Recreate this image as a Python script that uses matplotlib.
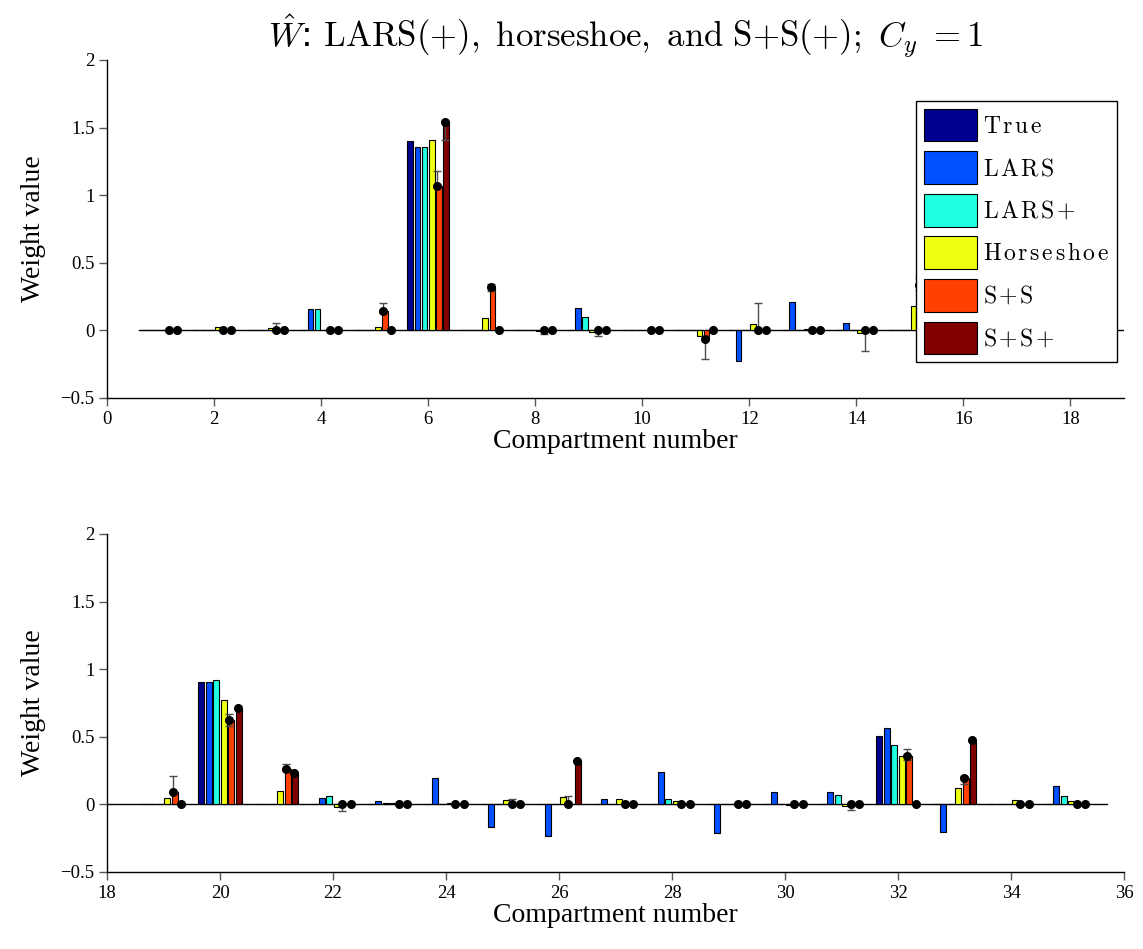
import numpy as np
import matplotlib
matplotlib.use("Agg")
import matplotlib.pyplot as plt

plt.rcParams['mathtext.fontset'] = 'cm'
plt.rcParams['axes.unicode_minus'] = True

# ---- data: estimated weights for compartments 1..35 ----
compartments = np.arange(1, 36)
methods = ["True", "LARS", "LARS+", "Horseshoe", "S+S", "S+S+"]
colors = ["#00008F", "#0050FF", "#20FFDF", "#EFFF10", "#FF4000", "#800000"]

w_true = [0, 0, 0, 0, 0, 1.40, 0, 0, 0, 0, 0, 0, 0, 0, 0, 0, 0, 0,
          0, 0.905, 0, 0, 0, 0, 0, 0, 0, 0, 0, 0, 0, 0.505, 0, 0, 0]
w_lars = [0.005, 0, 0, 0.16, 0, 1.355, 0, 0, 0.168, 0, 0, -0.23, 0.21, 0.057, 0, 0, 0, 0,
          0, 0.902, 0, 0.047, 0.022, 0.195, -0.17, -0.232, 0.042, 0.239, -0.212, 0.089,
          0.089, 0.564, -0.207, 0, 0.135]
w_lars_pos = [0, 0, 0, 0.16, 0, 1.36, 0, 0, 0.10, 0, 0, 0, 0, 0, 0, 0, 0, 0,
              0, 0.917, 0, 0.061, 0.012, 0.003, 0, 0, 0, 0.037, 0, 0,
              0.071, 0.441, 0, 0.004, 0.061]
w_horseshoe = [0, 0.022, 0.018, 0, 0.022, 1.41, 0.094, -0.005, -0.012, 0, -0.04, 0.047,
               0.01, -0.017, 0.178, 0, 0, 0,
               0.049, 0.771, 0.098, -0.018, 0.013, 0.008, 0.032, 0.052, 0.037, 0.022,
               0.004, -0.003, -0.01, 0.357, 0.12, 0.03, 0.027]
w_ss = [0, 0, 0, 0, 0.14, 1.07, 0.318, 0, 0, 0, -0.063, 0, 0, 0, 0.335, 0, 0, 0,
        0.09, 0.623, 0.263, 0, 0, 0, 0, 0, 0, 0, 0, 0, 0, 0.357, 0.192, 0, 0]
ss_low = [0, 0, 0, 0, 0.13, 1.06, 0.29, -0.025, -0.045, 0, -0.21, 0, 0, -0.15, 0.30, 0, 0, 0,
          0.09, 0.58, 0.244, -0.047, 0, 0, 0, 0, 0, 0, 0, 0, -0.042, 0.33, 0.15, 0, 0]
ss_high = [0, 0, 0.055, 0, 0.20, 1.18, 0.345, 0.005, 0, 0, -0.04, 0.20, 0, 0, 0.39, 0, 0, 0,
           0.21, 0.666, 0.296, 0, 0, 0, 0.037, 0.064, 0, 0, 0, 0, 0, 0.407, 0.21, 0, 0]
w_ss_pos = [0, 0, 0, 0, 0, 1.54, 0, 0, 0, 0, 0, 0, 0, 0, 0, 0, 0, 0,
            0, 0.715, 0.229, 0, 0, 0, 0, 0.322, 0, 0, 0, 0, 0, 0, 0.478, 0, 0]
ssp_low = [0, 0, 0, 0, 0, 1.41, 0, 0, 0, 0, 0, 0, 0, 0, 0, 0, 0, 0,
           0, 0.715, 0.229, 0, 0, 0, 0, 0.322, 0, 0, 0, 0, 0, 0, 0.478, 0, 0]
ssp_high = [0, 0, 0, 0, 0, 1.55, 0, 0, 0, 0, 0, 0, 0, 0, 0, 0, 0, 0,
            0, 0.715, 0.229, 0, 0, 0, 0, 0.322, 0, 0, 0, 0, 0, 0, 0.478, 0, 0]

series = [w_true, w_lars, w_lars_pos, w_horseshoe, w_ss, w_ss_pos]

W, H = 1143, 949
fig = plt.figure(figsize=(W / 100, H / 100), dpi=100)
ax_top = fig.add_axes([107 / W, 1 - 398 / H, 1017 / W, 338 / H])
ax_bot = fig.add_axes([107 / W, 1 - 872 / H, 1017 / W, 338 / H])

n = len(methods)
group_w = 0.8
step = group_w / n
bar_w = step * 0.8
offsets = (np.arange(n) - (n - 1) / 2) * step

tick_font = dict(family="Liberation Serif", size=13.5)
label_font = dict(family="Liberation Serif", size=20)


def draw_panel(ax, first, last, xlim, xticks, base_span):
    sel = (compartments >= first) & (compartments <= last)
    x = compartments[sel]
    ax.plot(base_span, [0, 0], color="black", lw=1.0, zorder=1)
    handles = []
    for i in range(n):
        vals = np.asarray(series[i])[sel]
        h = ax.bar(x + offsets[i], vals, width=bar_w, color=colors[i],
                   edgecolor="black", linewidth=0.8, zorder=2)
        handles.append(h)
    # posterior summaries for the spike-and-slab fits
    for vals, lo, hi, dx in ((w_ss, ss_low, ss_high, 0.165),
                             (w_ss_pos, ssp_low, ssp_high, 0.315)):
        v = np.asarray(vals)[sel]
        l = np.asarray(lo)[sel]
        u = np.asarray(hi)[sel]
        has = (u - l) > 1e-9
        if has.any():
            ax.errorbar(x[has] + dx, v[has], yerr=[v[has] - l[has], u[has] - v[has]],
                        fmt="none", ecolor="0.3", elinewidth=1.0, capsize=3,
                        capthick=1.0, zorder=3)
        ax.plot(x + dx, v, "o", color="black", ms=5.5, zorder=4)
    ax.set_xlim(*xlim)
    ax.set_ylim(-0.5, 2)
    ax.set_xticks(xticks)
    ax.set_yticks([-0.5, 0, 0.5, 1, 1.5, 2])
    ax.set_yticklabels(["\u22120.5", "0", "0.5", "1", "1.5", "2"])
    for lab in ax.get_xticklabels() + ax.get_yticklabels():
        lab.set_fontfamily(tick_font["family"])
        lab.set_fontsize(tick_font["size"])
    ax.tick_params(direction="out", length=6, width=1, color="0.35",
                   labelcolor="black", pad=3)
    for side in ("top", "right"):
        ax.spines[side].set_visible(False)
    for side in ("left", "bottom"):
        ax.spines[side].set_color("black")
        ax.spines[side].set_linewidth(1.0)
    ax.set_ylabel("Weight value", **label_font, labelpad=10)
    ax.set_xlabel("Compartment number", **label_font, labelpad=1)
    return handles


handles = draw_panel(ax_top, 1, 18, (0, 19), np.arange(0, 19, 2), [0.6, 19])
draw_panel(ax_bot, 19, 35, (18, 36), np.arange(18, 37, 2), [18, 35.7])

ax_top.set_title(r"$\hat{W}$: $\mathrm{LARS(+),\ horseshoe,\ and\ S{+}S(+);}\ C_y\ {=}1$",
                 fontsize=25, pad=8, x=0.51)


def spaced(word, gap=0.13):
    """Letter-spaced roman label for the legend."""
    parts = [("{+}" if ch == "+" else ch) for ch in word]
    return r"$\mathrm{" + (r"\hspace{%g}" % gap).join(parts) + "}$"


legend_labels = [spaced(m) for m in methods]
leg = ax_top.legend(handles, legend_labels, loc="upper right",
                    bbox_to_anchor=(1010 / 1017, (398 - 101) / 338),
                    borderaxespad=0, fontsize=17, frameon=True, fancybox=False,
                    handlelength=2.25, handleheight=1.75, handletextpad=0.25,
                    labelspacing=0.42, borderpad=0.33)
leg.get_frame().set_edgecolor("black")
leg.get_frame().set_linewidth(1.0)
leg.get_frame().set_alpha(1.0)
leg.set_zorder(10)

fig.savefig("out.png", dpi=100, facecolor="white")
